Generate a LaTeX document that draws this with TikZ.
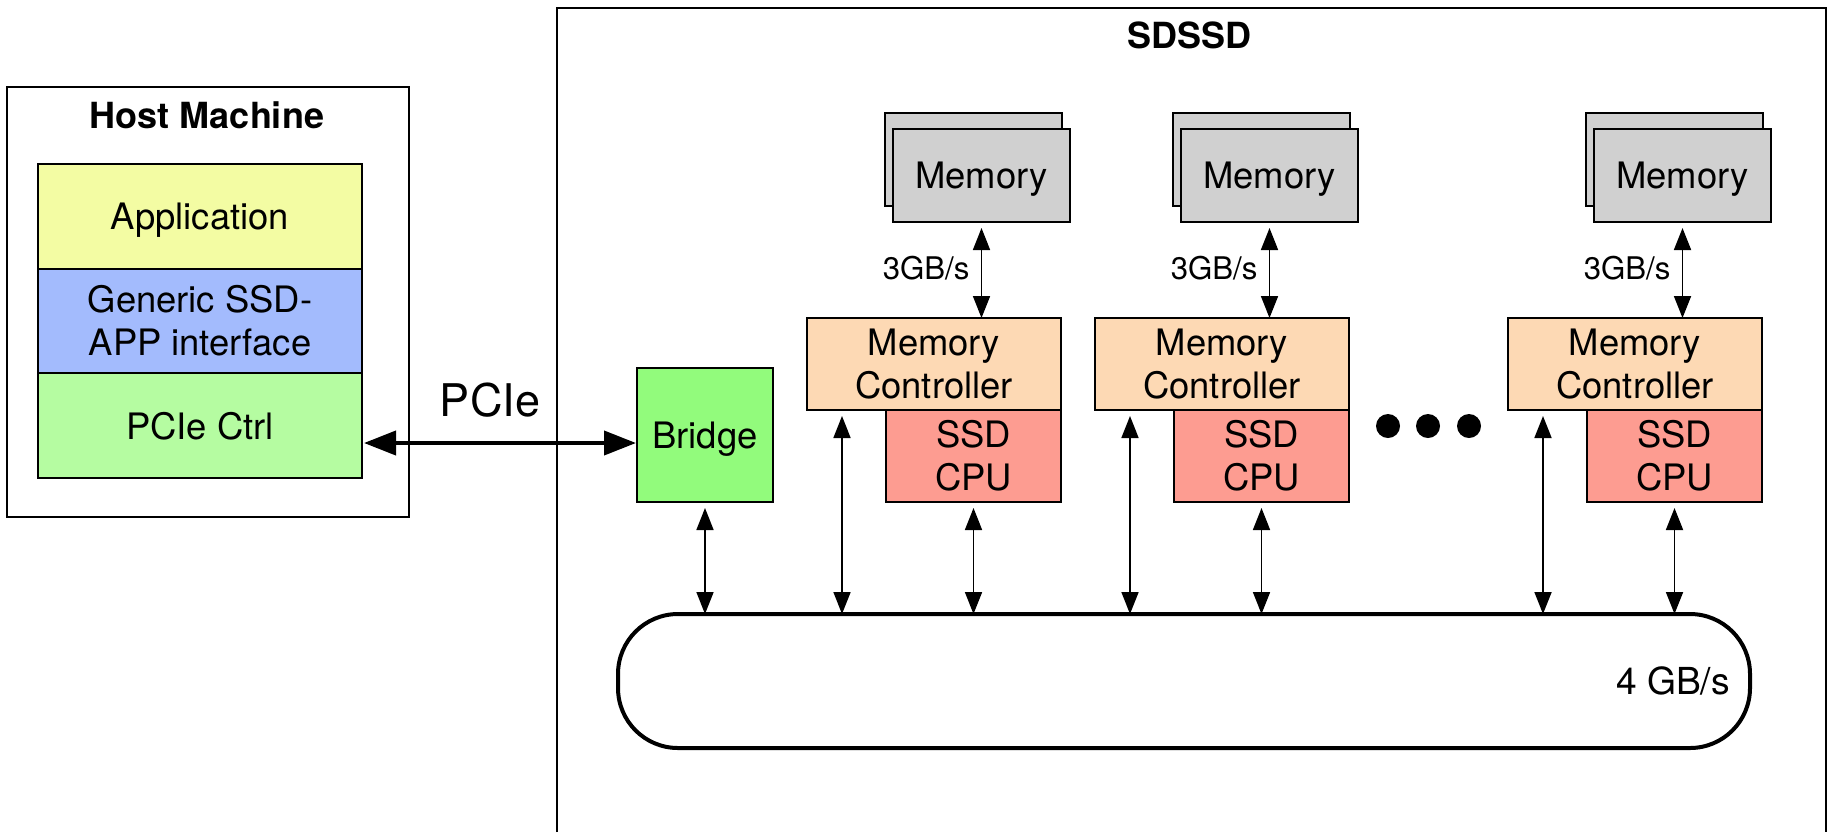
\documentclass[tikz,border=0pt]{standalone}
\usepackage{fontspec}
\setmainfont{TeX Gyre Heros}
\usetikzlibrary{arrows.meta,calc}

\definecolor{appyellow}{RGB}{243,252,163}
\definecolor{ifaceblue}{RGB}{163,187,253}
\definecolor{ctrlgreen}{RGB}{181,252,161}
\definecolor{bridgegreen}{RGB}{146,251,124}
\definecolor{memgray}{RGB}{208,208,208}
\definecolor{mcpeach}{RGB}{253,217,180}
\definecolor{cpured}{RGB}{253,156,145}

\begin{document}
\begin{tikzpicture}[x=0.5pt,y=-0.5pt,
  every node/.style={inner sep=0pt, outer sep=0pt},
  mainfont/.style={font=\fontsize{18.2}{21.5}\selectfont},
  box/.style={draw, line width=1pt, align=center, mainfont},
  oneline/.style={text depth=0pt},
  frame/.style={draw, line width=0.9pt},
  membox/.style={box, oneline, fill=memgray, minimum width=88.5pt, minimum height=46.5pt},
  biarrow/.style={line width=0.85pt,
    {Triangle[length=11pt,width=8.5pt]}-{Triangle[length=11pt,width=8.5pt]}},
  pciearrow/.style={line width=2pt,
    {Triangle[length=16pt,width=12pt]}-{Triangle[length=16pt,width=12pt]}},
  ratelabel/.style={font=\fontsize{15.6}{18}\selectfont}
]
\useasboundingbox (0,0) rectangle (1831,832);

% Host machine
\node[frame, minimum width=201pt, minimum height=215pt] (host) at (208,302) {};
\node[oneline, font=\bfseries\fontsize{18}{21.5}\selectfont] (hosttitle) at (207,115) {Host Machine};
\node[box, oneline, fill=appyellow, minimum width=162pt, minimum height=52.5pt] (app) at (200,216.5) {Application};
\node[box, fill=ifaceblue, minimum width=162pt, minimum height=52pt] (iface) at (200,321) {Generic SSD-\\APP interface};
\node[box, oneline, fill=ctrlgreen, minimum width=162pt, minimum height=52.5pt] (pctrl) at (200,425.5) {PCIe Ctrl};

% SDSSD enclosure (continues below the page)
\draw[frame] (557,832) -- (557,8) -- (1826,8) -- (1826,832);
\node[oneline, font=\bfseries\fontsize{18}{21.5}\selectfont] (sdtitle) at (1189,35) {SDSSD};

% Internal bus
\node[draw, line width=2pt, rounded corners=30pt, minimum width=566pt, minimum height=67pt] (bus) at (1184,681) {};
\node[oneline, font=\fontsize{18.6}{21.5}\selectfont] (busrate) at (1673,681) {4 GB/s};

% Bridge and PCIe link
\node[box, oneline, fill=bridgegreen, minimum width=68pt, minimum height=67pt] (bridge) at (705,435) {Bridge};
\draw[pciearrow] ($(pctrl.east)+(2,17.5)$) -- ($(bridge.west)+(-1,8)$);
\node[oneline, font=\fontsize{22.5}{26}\selectfont] (pcielabel) at (490,400) {PCIe};
\draw[biarrow, shorten <=3pt] (bridge.south) -- (bridge.south |- bus.north);

% Processing columns
\foreach \dx/\i in {0/1,288/2,701/3}{
  \node[membox] (memb\i) at (973.5+\dx,159.5) {};
  \node[membox] (mem\i) at (981.5+\dx,175.5) {Memory};
  \node[box, fill=mcpeach, minimum width=127pt, minimum height=46pt] (mc\i) at (934+\dx,364) {Memory\\Controller};
  \node[box, fill=cpured, minimum width=87.5pt, minimum height=46pt] (cpu\i) at (973.5+\dx,456) {SSD\\CPU};
  \draw[biarrow, shorten <=3pt] (mem\i.south) -- (mem\i.south |- mc\i.north);
  \node[ratelabel, anchor=east] (rate\i) at ($(mem\i.south)+(-12,46)$) {3GB/s};
  \coordinate (link\i) at ($(mc\i.south west)+(35,0)$);
  \draw[biarrow, shorten <=3pt] (link\i) -- (link\i |- bus.north);
  \draw[biarrow, shorten <=3pt] (cpu\i.south) -- (cpu\i.south |- bus.north);
}

% Ellipsis between columns
\foreach \k/\xx in {1/1388,2/1428,3/1469}{
  \node[circle, fill=black, minimum size=12pt] (dot\k) at (\xx,426) {};
}
\end{tikzpicture}
\end{document}
